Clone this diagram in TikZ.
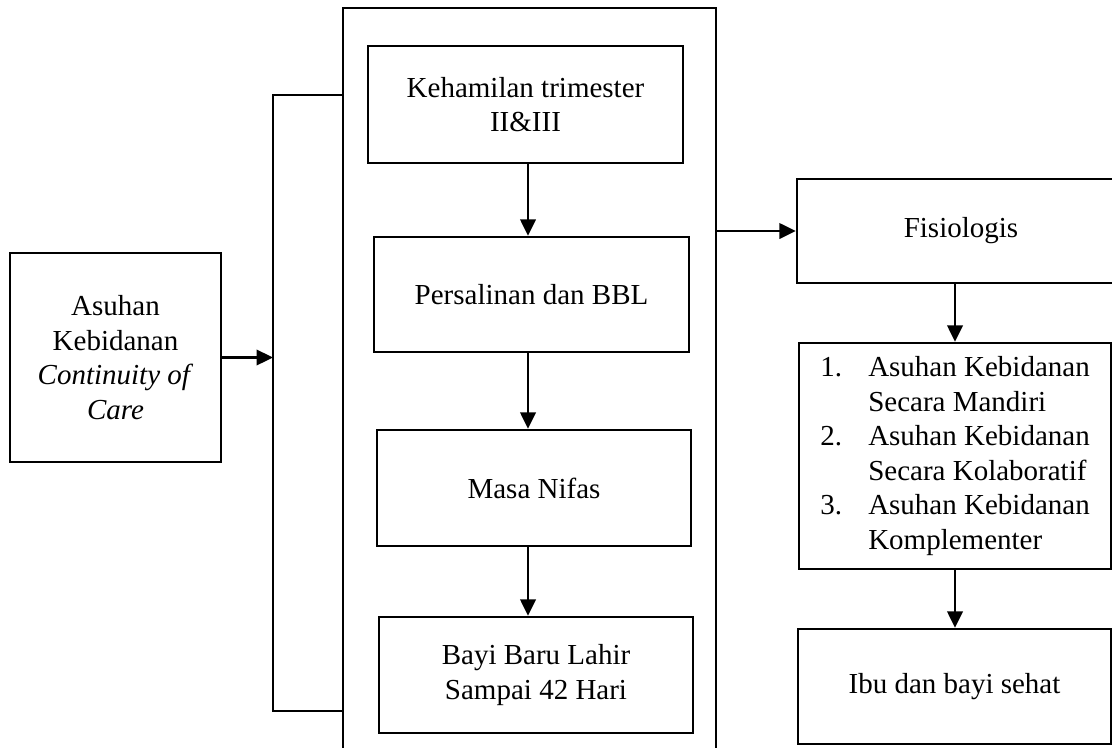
\documentclass[tikz,border=0pt]{standalone}
\usepackage{fontspec}
\setmainfont{Liberation Serif}
\usetikzlibrary{arrows.meta,positioning}

\begin{document}
\begin{tikzpicture}[x=0.4pt,y=-0.4pt,line width=0.95pt,
  every node/.style={font={\fontsize{11.6}{13.8}\selectfont}},
  >={Triangle[length=6.6pt,width=6.2pt]},
  kotak/.style={draw,align=center,inner sep=0pt}]
  \useasboundingbox (0,0) rectangle (1112,747);
  % kiri
  \node[kotak,minimum width=84.4pt,minimum height=83.6pt] (care) at (115.5,357.5)
    {Asuhan\\Kebidanan\\\textit{Continuity of}\\\textit{Care}};
  % wadah tahapan (bawah terbuka)
  \node[draw,minimum width=149.2pt,minimum height=308.8pt] (tahap) at (529.5,394) {};
  \node[kotak,minimum width=126pt,minimum height=46.8pt] (hamil) at (525.5,104.5)
    {Kehamilan trimester\\II\&III};
  \node[kotak,minimum width=126pt,minimum height=46pt] (salin) at (531.5,294.5)
    {Persalinan dan BBL};
  \node[kotak,minimum width=125.6pt,minimum height=46.4pt] (nifas) at (534,488)
    {Masa Nifas};
  \node[kotak,minimum width=125.6pt,minimum height=46.4pt] (bayi) at (536,675)
    {Bayi Baru Lahir\\Sampai 42 Hari};
  % kanan
  \node[kotak,minimum width=131.2pt,minimum height=41.6pt] (fisio) at (961,231)
    {Fisiologis};
  \node[kotak,align=left,minimum width=124.8pt,minimum height=90.4pt] (ragam) at (955,456)
    {\makebox[19.2pt][l]{1.}Asuhan Kebidanan\\\hspace*{19.2pt}Secara Mandiri\\
     \makebox[19.2pt][l]{2.}Asuhan Kebidanan\\\hspace*{19.2pt}Secara Kolaboratif\\
     \makebox[19.2pt][l]{3.}Asuhan Kebidanan\\\hspace*{19.2pt}Komplementer};
  \node[kotak,minimum width=125.2pt,minimum height=46pt] (sehat) at (954.5,686.5)
    {Ibu dan bayi sehat};

  \coordinate (kt) at (343,95);
  \coordinate (kb) at (343,711);
  \coordinate (kiri) at (273,0);
  \coordinate (poros) at (528,0);
  \coordinate (porosk) at (955,0);
  % kurung dan panah
  \draw (kt) -| (kiri |- kb) -- (kb);
  \draw[->] (care) -- (care -| kiri);
  \draw[->] (hamil.south -| poros) -- (salin.north -| poros);
  \draw[->] (salin.south -| poros) -- (nifas.north -| poros);
  \draw[->] (nifas.south -| poros) -- (bayi.north -| poros);
  \draw[->] (tahap.east |- fisio) -- (fisio);
  \draw[->] (fisio.south -| porosk) -- (ragam.north -| porosk);
  \draw[->] (ragam.south -| porosk) -- (sehat.north -| porosk);
\end{tikzpicture}
\end{document}
